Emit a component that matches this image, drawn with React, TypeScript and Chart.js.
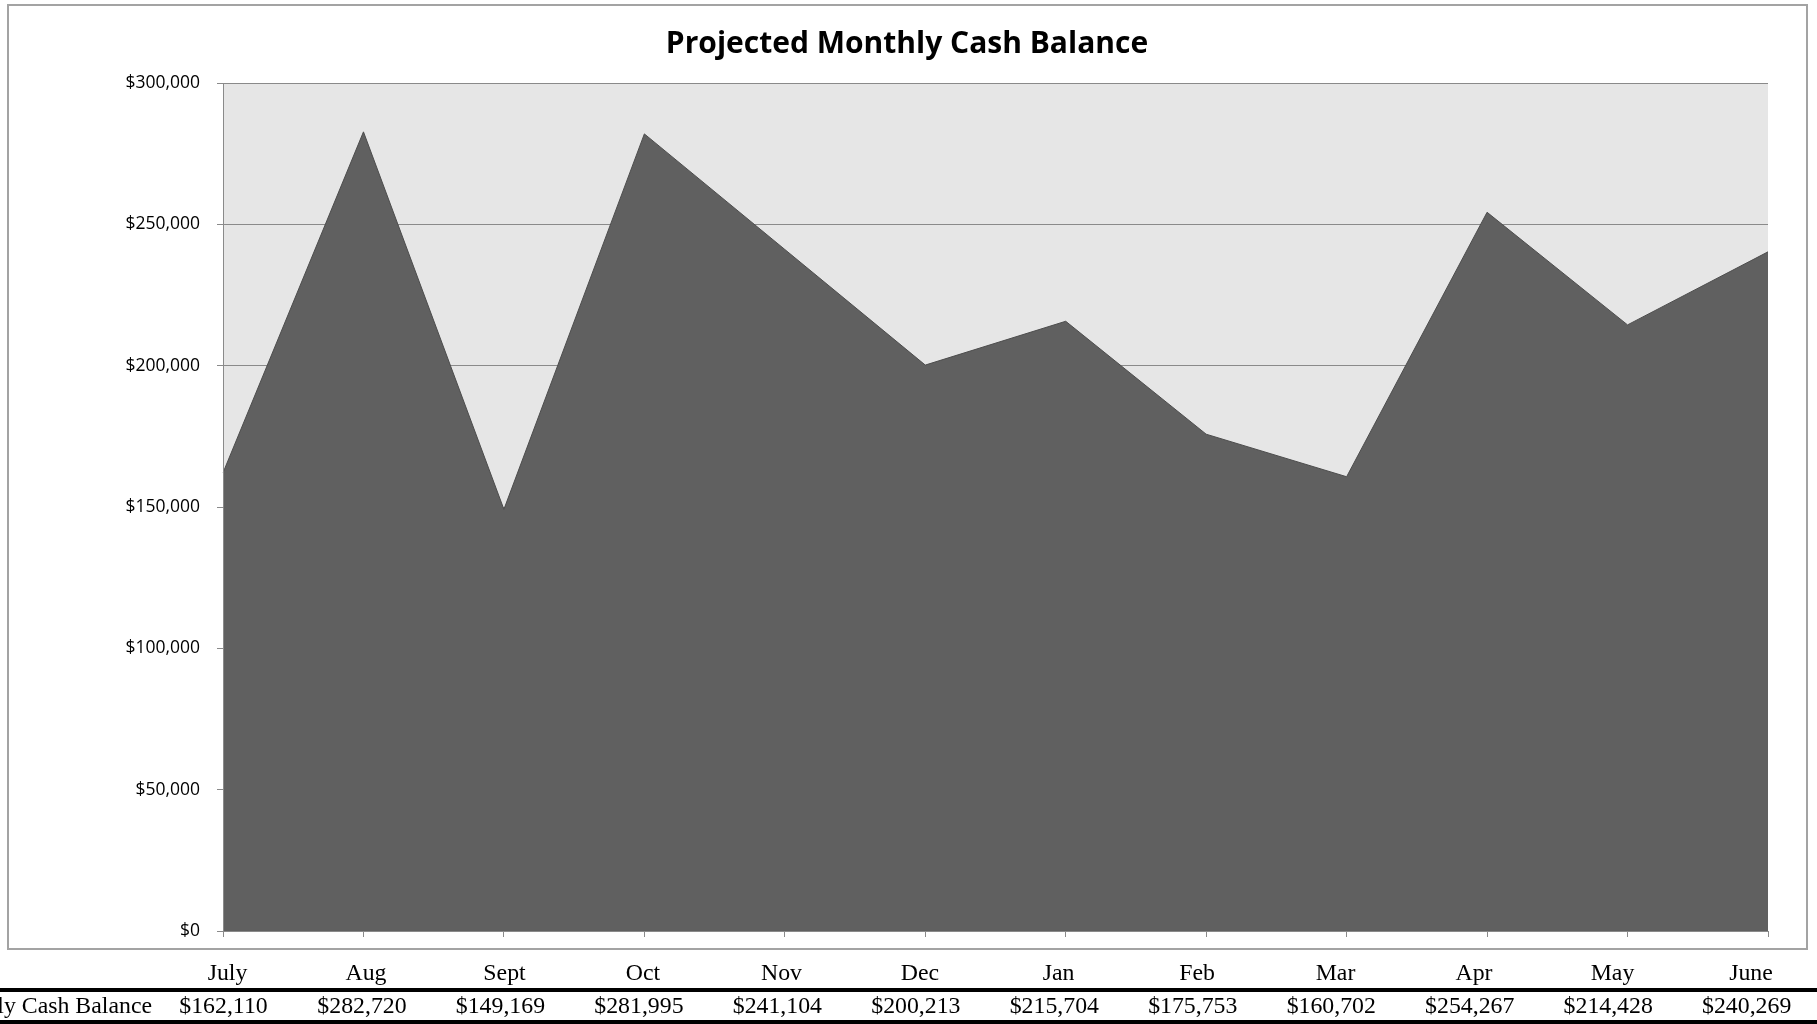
import { useEffect, useRef } from "react";
import { Chart, registerables } from "chart.js";

Chart.register(...registerables);

const months = ["July", "Aug", "Sept", "Oct", "Nov", "Dec", "Jan", "Feb", "Mar", "Apr", "May", "June"];
const cashBalance = [162110, 282720, 149169, 281995, 241104, 200213, 215704, 175753, 160702, 254267, 214428, 240269];
const yTicks = [0, 50000, 100000, 150000, 200000, 250000, 300000];
const chartTitle = "Projected Monthly Cash Balance";
const rowLabel = "Monthly Cash Balance";

const fmt = (v: number) => "$" + Math.round(v).toLocaleString("en-US");

const W = 1817;
const H = 1024;

const decor = {
  id: "decor",
  beforeDraw(chart: any) {
    const { ctx, chartArea: a } = chart;
    ctx.save();
    ctx.fillStyle = "#ffffff";
    ctx.fillRect(0, 0, W, H);
    ctx.fillStyle = "#e6e6e6";
    ctx.fillRect(a.left, a.top, a.right - a.left, a.bottom - a.top);
    ctx.strokeStyle = "#a3a3a3";
    ctx.lineWidth = 2;
    ctx.strokeRect(8, 5, 1799, 944);
    ctx.restore();
  },
  afterDraw(chart: any) {
    const { ctx } = chart;
    ctx.save();
    // title
    ctx.fillStyle = "#000";
    ctx.font = 'bold 30px "Open Sans", sans-serif';
    ctx.textAlign = "center";
    ctx.textBaseline = "alphabetic";
    ctx.fillText(chartTitle, 907, 53);
    // table lines
    ctx.fillRect(0, 988, W, 4);
    ctx.fillRect(0, 1020, W, 4);
    // table text
    ctx.font = '23.8px "Liberation Serif", "Times New Roman", serif';
    ctx.textAlign = "center";
    months.forEach((m, i) => {
      ctx.fillText(m, 227.5 + i * 138.5, 980);
    });
    cashBalance.forEach((v, i) => {
      ctx.fillText(fmt(v), 223.5 + i * 138.47, 1013);
    });
    ctx.textAlign = "right";
    ctx.fillText(rowLabel, 152, 1013);
    ctx.restore();
  },
};

export default function App() {
  const ref = useRef<HTMLCanvasElement | null>(null);
  useEffect(() => {
    if (!ref.current) return;
    const chart = new Chart(ref.current, {
      type: "line",
      data: {
        labels: months,
        datasets: [
          {
            data: cashBalance,
            fill: "origin",
            backgroundColor: "#606060",
            borderColor: "#4d4d4d",
            borderWidth: 1,
            pointRadius: 0,
            pointHoverRadius: 0,
            tension: 0,
          },
        ],
      },
      options: {
        responsive: false,
        animation: false,
        devicePixelRatio: 1,
        events: [],
        layout: { padding: { left: 0, top: 83, right: 49, bottom: 0 } },
        plugins: {
          legend: { display: false },
          title: { display: false },
          tooltip: { enabled: false },
        },
        scales: {
          x: {
            type: "category",
            offset: false,
            afterFit: (s: any) => {
              s.height = 93;
            },
            grid: {
              drawOnChartArea: false,
              drawTicks: true,
              tickLength: 6,
              color: "#8a8a8a",
            },
            border: { display: true, color: "#8a8a8a", z: 1 },
            ticks: { display: false },
          },
          y: {
            min: yTicks[0],
            max: yTicks[yTicks.length - 1],
            afterFit: (s: any) => {
              s.width = 223;
            },
            afterBuildTicks: (s: any) => {
              s.ticks = yTicks.map((v) => ({ value: v }));
            },
            grid: {
              color: "#8a8a8a",
              lineWidth: 1,
              drawTicks: true,
              tickLength: 6,
            },
            border: { display: true, color: "#8a8a8a", z: 1 },
            ticks: {
              padding: 17,
              color: "#000",
              font: { family: '"Open Sans", sans-serif', size: 17.5 },
              callback: (v: any) => fmt(Number(v)),
            },
          },
        },
      },
      plugins: [decor],
    });
    return () => chart.destroy();
  }, []);
  return (
    <div style={{ position: "absolute", left: 0, top: 0, width: W, height: H, background: "#fff" }}>
      <canvas ref={ref} width={W} height={H} style={{ display: "block", width: W, height: H }} />
    </div>
  );
}
